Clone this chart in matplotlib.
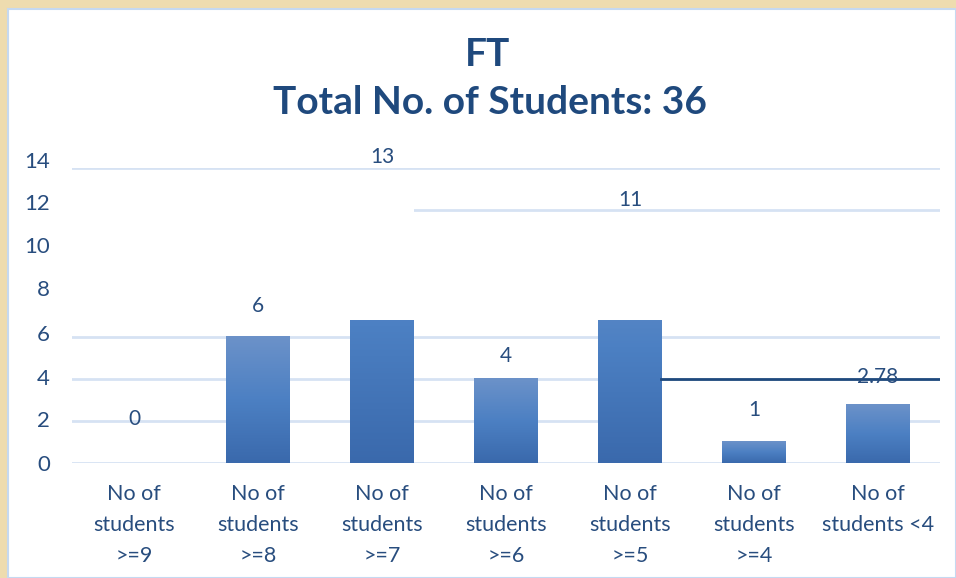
import numpy as np
import matplotlib
matplotlib.use("Agg")
import matplotlib.pyplot as plt
from matplotlib.patches import Rectangle
from matplotlib.colors import LinearSegmentedColormap

plt.rcParams['font.family'] = ['Lato', 'DejaVu Sans']

# chart data
categories = ["No of\nstudents\n>=9", "No of\nstudents\n>=8", "No of\nstudents\n>=7",
              "No of\nstudents\n>=6", "No of\nstudents\n>=5", "No of\nstudents\n>=4",
              "No of\nstudents <4"]
counts = [0, 6, 13, 4, 11, 1, 2.78]
label_texts = ["0", "6", "13", "4", "11", "1", "2.78"]
y_ticks = [0, 2, 4, 6, 8, 10, 12, 14]
title_main = "FT"
title_sub = "Total No. of Students: 36"
ref_level = 4

# distance (pixels) of each value label above its bar top
label_offsets = [44, 31, 32, 23, 31, 32, 27]
# small vertical nudge (pixels) of the y tick labels
ytick_nudge = [-2, 0, 0, 2, 4, 5, 6, 6]

navy = "#1F497D"
text_col = "#284D7E"
grid_col = "#D6E2F3"

fig = plt.figure(figsize=(9.56, 5.78), dpi=100)
fig.patch.set_facecolor("#EEDCAF")
panel = Rectangle((8 / 956, 0), 1 - 8 / 956, 1 - 9 / 578, transform=fig.transFigure,
                  facecolor="white", edgecolor="#C5D9F1", lw=1.5, zorder=-10)
fig.patches.append(panel)

ax = fig.add_axes([72 / 956, 115 / 578, 868 / 956, 295 / 578])
ax.set_zorder(1)
ax.patch.set_alpha(0)
for s in ax.spines.values():
    s.set_visible(False)

x = np.arange(len(categories))
width = 0.51

# gridlines
for t in y_ticks:
    ax.axhline(t, color=grid_col, lw=2, zorder=0.5)

# gradient bars
cmap = LinearSegmentedColormap.from_list("bar", ["#3A69AC", "#4C80C3", "#6C92C9"])
grad = np.linspace(0, 1, 256).reshape(-1, 1)
for xi, v in zip(x, counts):
    if v <= 0:
        continue
    ax.imshow(grad, extent=[xi - width / 2, xi + width / 2, 0, v], origin="lower",
              cmap=cmap, aspect="auto", zorder=2, interpolation="bilinear")

# blank areas over the plot
ax.add_patch(Rectangle((-0.5, 6.79), 7.0, 5.1, facecolor="white", edgecolor="none", zorder=3))
ax.add_patch(Rectangle((-0.5, 11.8), 2.76, 1.8, facecolor="white", edgecolor="none", zorder=3))
ax.add_patch(Rectangle((4.25, 1.5), 2.0, 2.4, facecolor="white", edgecolor="none", zorder=1))

# reference line
ax.plot([4.25, 6.5], [ref_level, ref_level], color=navy, lw=2, zorder=2.5)

# value labels
for xi, v, txt, off in zip(x, counts, label_texts, label_offsets):
    ax.annotate(txt, xy=(xi, v), xytext=(0, off * 0.72), textcoords="offset points",
                ha="center", va="center", fontsize=15, color=text_col, zorder=5,
                annotation_clip=False)

ax.set_xlim(-0.5, 6.5)
ax.set_ylim(0, 14)
ax.set_yticks(y_ticks)
ax.set_yticklabels([])
for t, nudge in zip(y_ticks, ytick_nudge):
    ax.annotate(str(t), xy=(0, t), xycoords=("axes fraction", "data"),
                xytext=(-22 * 0.72, nudge * 0.72), textcoords="offset points",
                ha="right", va="center", fontsize=16, color=text_col,
                annotation_clip=False)
ax.set_xticks(x)
ax.set_xticklabels(categories, fontsize=15.5, color=text_col, linespacing=1.7, va="top")
ax.tick_params(axis="y", length=0)
ax.tick_params(axis="x", length=0, pad=15)

fig.text(488 / 956, 1 - 55 / 578, title_main, ha="center", va="center", fontsize=28,
         fontweight="bold", color=navy)
fig.text(490 / 956, 1 - 103 / 578, title_sub, ha="center", va="center", fontsize=28,
         fontweight="bold", color=navy)

fig.savefig("out.png", dpi=100, facecolor=fig.get_facecolor())
